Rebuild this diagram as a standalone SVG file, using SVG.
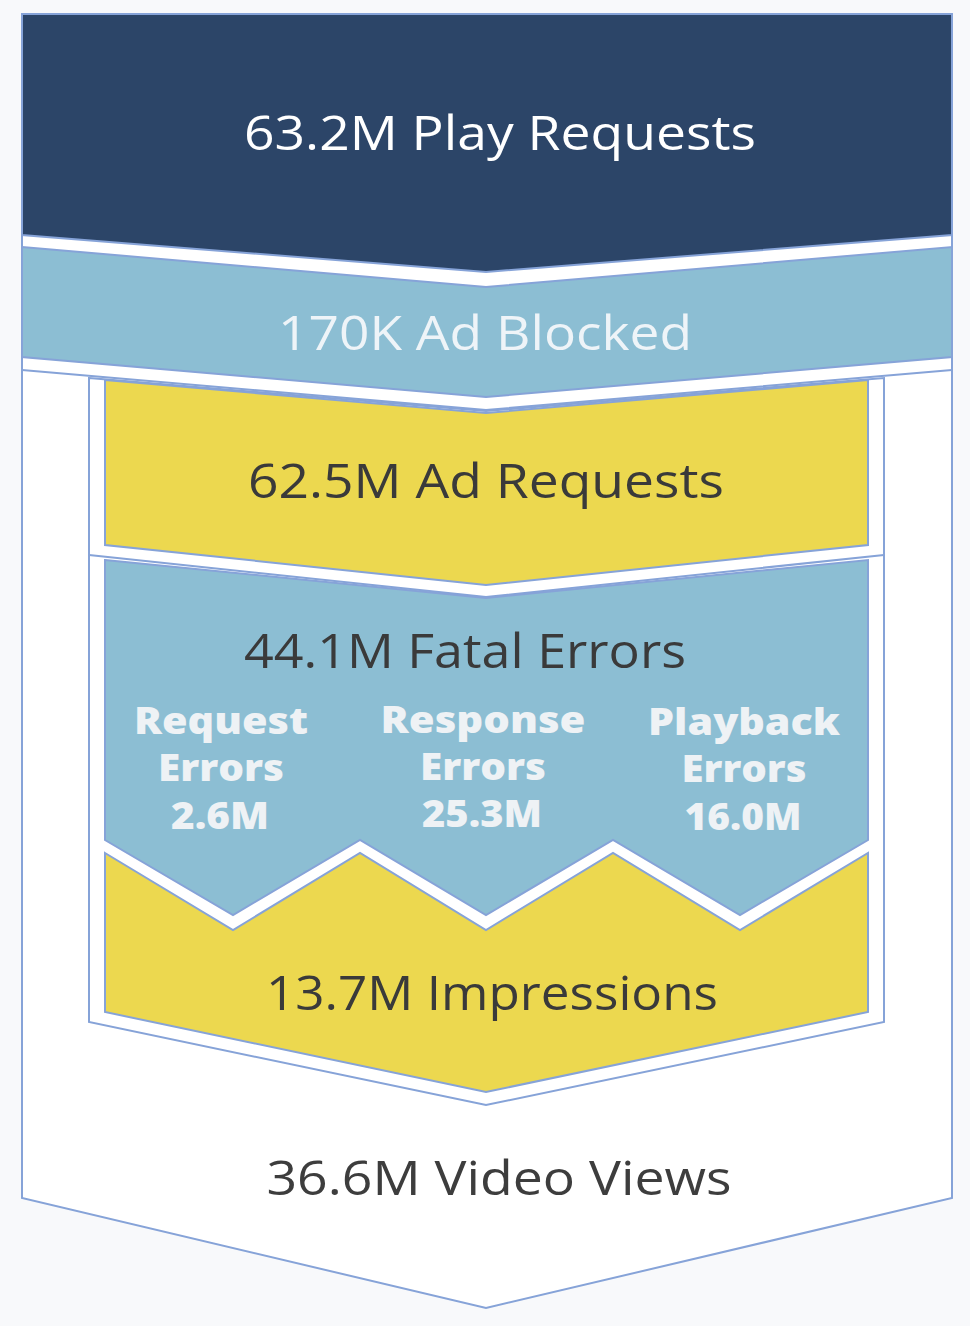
<svg xmlns="http://www.w3.org/2000/svg" width="970" height="1326" viewBox="0 0 970 1326">
<style>
.o{stroke:#86a3d8;stroke-width:2;stroke-linejoin:miter}
.t{font-family:"Open Sans","Liberation Sans",sans-serif;font-size:47px;text-anchor:middle}
.s{font-family:"Open Sans","Liberation Sans",sans-serif;font-size:37px;font-weight:800;text-anchor:middle;fill:#eef2f5}
</style>
<rect width="970" height="1326" fill="#f8f9fb"/>
<g id="outer"><polygon class="o" fill="#fff" points="22,14 952,14 952,1198 486,1308 22,1198"/>
<polyline class="o" fill="none" points="22,370 486,410 952,370"/>
<text class="t" x="499" y="1195" fill="#3d3d3d" textLength="465" lengthAdjust="spacingAndGlyphs">36.6M Video Views</text></g>
<g id="play"><polygon class="o" fill="#2c4568" points="22,14 952,14 952,235 486,272 22,235"/>
<text class="t" x="500" y="150" fill="#fff" textLength="512" lengthAdjust="spacingAndGlyphs">63.2M Play Requests</text></g>
<g id="adblock"><polygon class="o" fill="#8cbed3" points="22,247 486,287 952,247 952,357 486,397 22,357"/>
<text class="t" x="485" y="350" fill="#eef4f8" textLength="414" lengthAdjust="spacingAndGlyphs">170K Ad Blocked</text></g>
<g id="inner"><polygon class="o" fill="#fff" points="89,378 486,411 884,378 884,1022 486,1105 89,1022"/></g>
<g id="adreq"><polygon class="o" fill="#ecd84f" points="105,380 486,413 868,380 868,545 486,585 105,545"/>
<polyline class="o" fill="none" points="89,555 486,597 884,555"/>
<text class="t" x="486" y="498" fill="#3a3a3a" textLength="476" lengthAdjust="spacingAndGlyphs">62.5M Ad Requests</text></g>
<g id="fatal"><polygon class="o" fill="#8cbed3" points="105,560 486,598 868,560 868,840 740,915 613,840 486,915 360,840 233,915 105,840"/>
<text class="t" x="465" y="668" fill="#3a3a3a" textLength="442" lengthAdjust="spacingAndGlyphs">44.1M Fatal Errors</text>
<text class="s" x="221" y="734" textLength="174" lengthAdjust="spacingAndGlyphs">Request</text><text class="s" x="221" y="781" textLength="126" lengthAdjust="spacingAndGlyphs">Errors</text><text class="s" x="220" y="829" textLength="98" lengthAdjust="spacingAndGlyphs">2.6M</text>
<text class="s" x="483" y="733" textLength="205" lengthAdjust="spacingAndGlyphs">Response</text><text class="s" x="483" y="780" textLength="126" lengthAdjust="spacingAndGlyphs">Errors</text><text class="s" x="482" y="827" textLength="120" lengthAdjust="spacingAndGlyphs">25.3M</text>
<text class="s" x="744" y="735" textLength="192" lengthAdjust="spacingAndGlyphs">Playback</text><text class="s" x="744" y="782" textLength="125" lengthAdjust="spacingAndGlyphs">Errors</text><text class="s" x="743" y="830" textLength="117" lengthAdjust="spacingAndGlyphs">16.0M</text></g>
<g id="impr"><polygon class="o" fill="#ecd84f" points="105,853 233,930 360,853 486,930 613,853 740,930 868,853 868,1012 486,1092 105,1012"/>
<text class="t" x="492" y="1010" fill="#3a3a3a" textLength="452" lengthAdjust="spacingAndGlyphs">13.7M Impressions</text></g>
<g id="connectors"></g>
</svg>
